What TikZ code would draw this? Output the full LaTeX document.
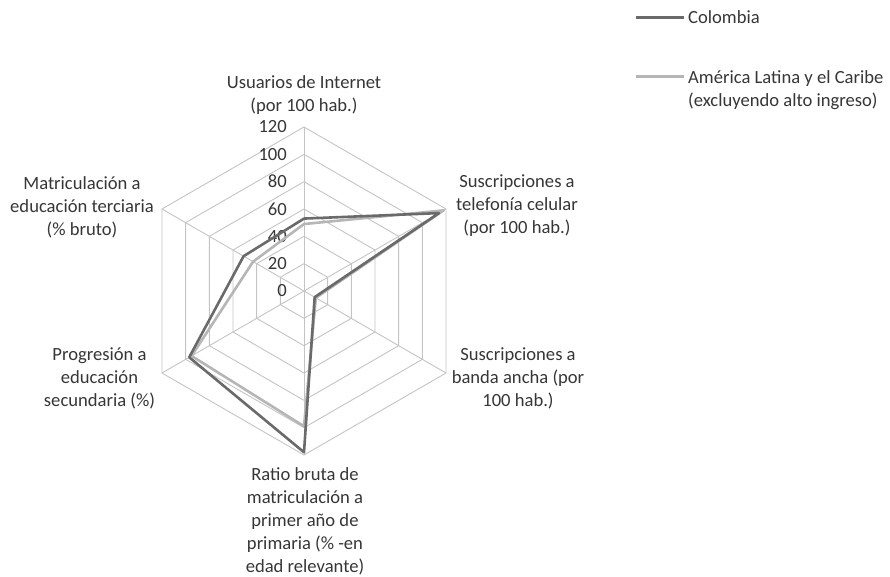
\documentclass[tikz,border=0pt]{standalone}
\usepackage{fontspec}
\setmainfont{Carlito}
\usepackage{xcolor}
\usepackage{tikz}
\usetikzlibrary{positioning}

\definecolor{gridgray}{HTML}{C4C4C4}
\definecolor{colgray}{HTML}{6A6A6A}
\definecolor{lacgray}{HTML}{B6B6B6}
\definecolor{txtgray}{HTML}{363636}

\begin{document}
\begin{tikzpicture}[
    x=1pt, y=1pt,
    grid/.style={draw=gridgray,line width=0.9pt},
    colline/.style={draw=colgray,line width=2.6pt,line join=round},
    lacline/.style={draw=lacgray,line width=2.6pt,line join=round},
    axislabel/.style={font=\fontsize{18.6}{23}\selectfont,align=center,text=txtgray,inner sep=0pt},
    ticklabel/.style={font=\fontsize{18.6}{20}\selectfont,anchor=east,text=txtgray,inner sep=0pt},
    legendlabel/.style={font=\fontsize{18.6}{22.5}\selectfont,align=left,anchor=west,text=txtgray,inner sep=0pt}
]
    \useasboundingbox (0,0) rectangle (890,-576);

    % radar grid and series
    \begin{scope}[shift={(304,-291)}]
        \foreach \r in {20,40,...,120}
            \draw[grid] (90:{\r*1.3667}) -- (30:{\r*1.3667}) -- (-30:{\r*1.3667})
                -- (-90:{\r*1.3667}) -- (-150:{\r*1.3667}) -- (150:{\r*1.3667}) -- cycle;
        \foreach \a in {90,30,-30,-90,-150,150}
            \draw[grid] (0,0) -- (\a:164);

        % tick values
        \foreach \v in {0,20,...,120}
            \node[ticklabel] (tick\v) at (-17,{\v*1.3667}) {\v};

        % America Latina y el Caribe
        \draw[lacline] (90:{49*1.3667}) -- (30:{118*1.3667}) -- (-30:{10*1.3667})
            -- (-90:{99*1.3667}) -- (-150:{95*1.3667}) -- (150:{43*1.3667}) -- cycle;
        % Colombia
        \draw[colline] (90:{53*1.3667}) -- (30:{114*1.3667}) -- (-30:{9*1.3667})
            -- (-90:{118*1.3667}) -- (-150:{97*1.3667}) -- (150:{51*1.3667}) -- cycle;
    \end{scope}

    % axis labels
    \node[axislabel] (internet) at (304,-95) {Usuarios de Internet\\(por 100 hab.)};
    \node[axislabel] (celular) at (517,-206) {Suscripciones a\\telefonía celular\\(por 100 hab.)};
    \node[axislabel] (banda) at (518,-378) {Suscripciones a\\banda ancha (por\\100 hab.)};
    \node[axislabel] (ratio) at (305,-521) {Ratio bruta de\\matriculación a\\primer año de\\primaria (\% -en\\edad relevante)};
    \node[axislabel] (progresion) at (99.5,-378) {Progresión a\\educación\\secundaria (\%)};
    \node[axislabel] (terciaria) at (82,-207) {Matriculación a\\educación terciaria\\(\% bruto)};

    % legend
    \coordinate (legcolA) at (636,-17.3);
    \coordinate (legcolB) at (684,-17.3);
    \coordinate (leglacA) at (636,-76.7);
    \coordinate (leglacB) at (684,-76.7);
    \draw[colline] (legcolA) -- (legcolB);
    \draw[lacline] (leglacA) -- (leglacB);
    \node[legendlabel] (colombia) at (688,-17.3) {Colombia};
    \node[legendlabel] (lac) at (688,-90) {América Latina y el Caribe\\(excluyendo alto ingreso)};
\end{tikzpicture}
\end{document}
